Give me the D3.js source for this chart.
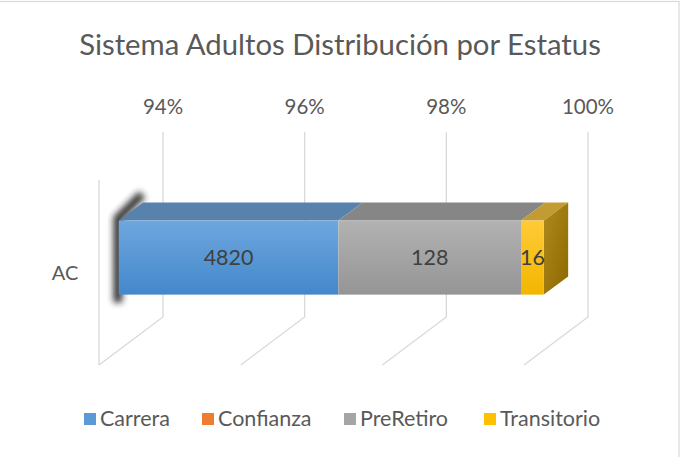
<!DOCTYPE html>
<html>
<head lang="es">
    <meta charset="UTF-8">
    <title>Sistema Adultos</title>
    <script src="https://cdn.jsdelivr.net/npm/d3@7"></script>
    <style>
        body{margin:0;background:#fff;}
        text{font-family:Lato,"Open Sans",sans-serif;fill:#595959;}
        .lbl{fill:#404040;}
    </style>
</head>
<body>
<script>
    // datos del grafico
    var categories=["AC"];
    var seriesNames=["Carrera","Confianza","PreRetiro","Transitorio"];
    var seriesValues=[4820,0,128,16];
    var tickValues=[0.94,0.96,0.98,1.00];
    var titleText="Sistema Adultos Distribución por Estatus";

    var colors={
        Carrera:{front:["#6ea7df","#4388cb"],top:"#5682ad",legend:"#5b9bd5"},
        Confianza:{front:["#f28c4a","#e7721f"],top:"#b85f22",legend:"#ed7d31"},
        PreRetiro:{front:["#b2b2b2","#959595"],top:"#868686",legend:"#a5a5a5"},
        Transitorio:{front:["#ffca38","#f2b600"],top:"#c29b33",legend:"#ffc000"}
    };

    var W=682,H=457;
    var svg=d3.select("body").append("svg").attr("width",W).attr("height",H);

    // proyeccion 3D simple
    var floorFront=365, wallH=185, depthDx=64, depthDy=-48;
    var x=d3.scaleLinear().domain([0.94,1.00]).range([99,524]);
    var yBand=d3.scaleBand().domain(categories).range([0,wallH]).paddingInner(0).paddingOuter(0.75);
    var barDepth=[0.31,0.69];
    function pt(p,d,h){
        return [x(p)+d*depthDx, floorFront-h+d*depthDy];
    }
    function poly(pts){return "M"+pts.map(function(q){return q.join(",");}).join("L")+"Z";}

    var defs=svg.append("defs");
    seriesNames.forEach(function(s,i){
        var g=defs.append("linearGradient").attr("id","gf"+i).attr("x1",0).attr("y1",0).attr("x2",0).attr("y2",1);
        g.append("stop").attr("offset","0%").attr("stop-color",colors[s].front[0]);
        g.append("stop").attr("offset","100%").attr("stop-color",colors[s].front[1]);
    });
    var sideG=defs.append("linearGradient").attr("id","gside").attr("x1",0).attr("y1",0).attr("x2",1).attr("y2",1);
    sideG.append("stop").attr("offset","0%").attr("stop-color","#b08a1c");
    sideG.append("stop").attr("offset","100%").attr("stop-color","#8c6800");
    defs.append("filter").attr("id","blur").attr("x","-50%").attr("y","-50%").attr("width","200%").attr("height","200%")
        .append("feGaussianBlur").attr("stdDeviation",3.2);

    // marco
    svg.append("rect").attr("x",-2).attr("y",1.5).attr("width",681).attr("height",470)
        .style("fill","none").style("stroke","#d9d9d9").style("stroke-width",1.2);

    // titulo
    var title=svg.append("text").attr("x",340).attr("y",55).attr("text-anchor","middle")
        .style("font-size","26px").text(titleText);
    var tw=title.node().getComputedTextLength();
    title.style("font-size",(26*522/tw)+"px");

    // rejilla
    var grid=svg.append("g").style("stroke","#d9d9d9").style("stroke-width",1.3).style("fill","none");
    tickValues.forEach(function(t){
        var a=pt(t,1,wallH), b=pt(t,1,0), c=pt(t,0,0);
        grid.append("path").attr("d","M"+a+"L"+b+"L"+c);
    });
    var ax0=pt(0.94,0,wallH), ax1=pt(0.94,0,0);
    grid.append("path").attr("d","M"+ax0+"L"+ax1);

    // etiquetas del eje
    svg.append("g").selectAll("text").data(tickValues).enter().append("text")
        .attr("x",function(d){return pt(d,1,wallH)[0];})
        .attr("y",114)
        .attr("text-anchor","middle")
        .style("font-size","20.5px")
        .text(d3.format(".0%"));

    // categoria
    svg.append("text").attr("x",65).attr("y",pt(0.94,0,yBand("AC")+yBand.bandwidth()/2)[1]+7)
        .attr("text-anchor","middle").style("font-size","20px").text("AC");

    // apilado 100%
    var total=d3.sum(seriesValues);
    var cum=0;
    var segs=seriesValues.map(function(v,i){
        var s={name:seriesNames[i],value:v,i:i,p0:cum/total,p1:(cum+v)/total};
        cum+=v;
        return s;
    }).filter(function(s){return s.value>0 && s.p1>x.domain()[0];});
    segs.forEach(function(s){s.p0=Math.max(s.p0,x.domain()[0]);});

    var h0=yBand("AC"), h1=yBand("AC")+yBand.bandwidth();
    var d0=barDepth[0], d1=barDepth[1];

    // sombra del extremo recortado
    var sa=pt(segs[0].p0,d0,h0), sb=pt(segs[0].p0,d0,h1), sc=pt(segs[0].p0,d1,h1);
    svg.append("path")
        .attr("d","M"+[sa[0]-1,sa[1]+8]+"L"+[sb[0]-1,sb[1]-2]+"L"+[sc[0]-1,sc[1]-8])
        .attr("filter","url(#blur)")
        .style("fill","none").style("stroke","#222").style("stroke-width",9).style("opacity",0.9);

    var bar=svg.append("g");
    segs.forEach(function(s,k){
        var c=colors[s.name];
        bar.append("path").attr("d",poly([pt(s.p0,d0,h1),pt(s.p0,d1,h1),pt(s.p1,d1,h1),pt(s.p1,d0,h1)]))
            .style("fill",c.top);
        if(k===segs.length-1){
            bar.append("path").attr("d",poly([pt(s.p1,d0,h0),pt(s.p1,d0,h1),pt(s.p1,d1,h1),pt(s.p1,d1,h0)]))
                .style("fill","url(#gside)");
        }
        var f0=pt(s.p0,d0,h1), f1=pt(s.p1,d0,h0);
        bar.append("rect").attr("x",f0[0]).attr("y",f0[1]).attr("width",f1[0]-f0[0]).attr("height",f1[1]-f0[1])
            .style("fill","url(#gf"+s.i+")");
        bar.append("text").attr("class","lbl")
            .attr("x",(f0[0]+f1[0])/2).attr("y",(f0[1]+f1[1])/2+7.5)
            .attr("text-anchor","middle").style("font-size","21.5px")
            .text(s.value);
    });

    // leyenda
    var legendX=[84,202,344,484];
    var leg=svg.append("g").selectAll("g").data(seriesNames).enter().append("g")
        .attr("transform",function(d,i){return "translate("+legendX[i]+",413)";});
    leg.append("rect").attr("width",12).attr("height",12).style("fill",function(d){return colors[d].legend;});
    leg.append("text").attr("x",16).attr("y",13).style("font-size","21.5px").text(function(d){return d;});
</script>
</body>
</html>
